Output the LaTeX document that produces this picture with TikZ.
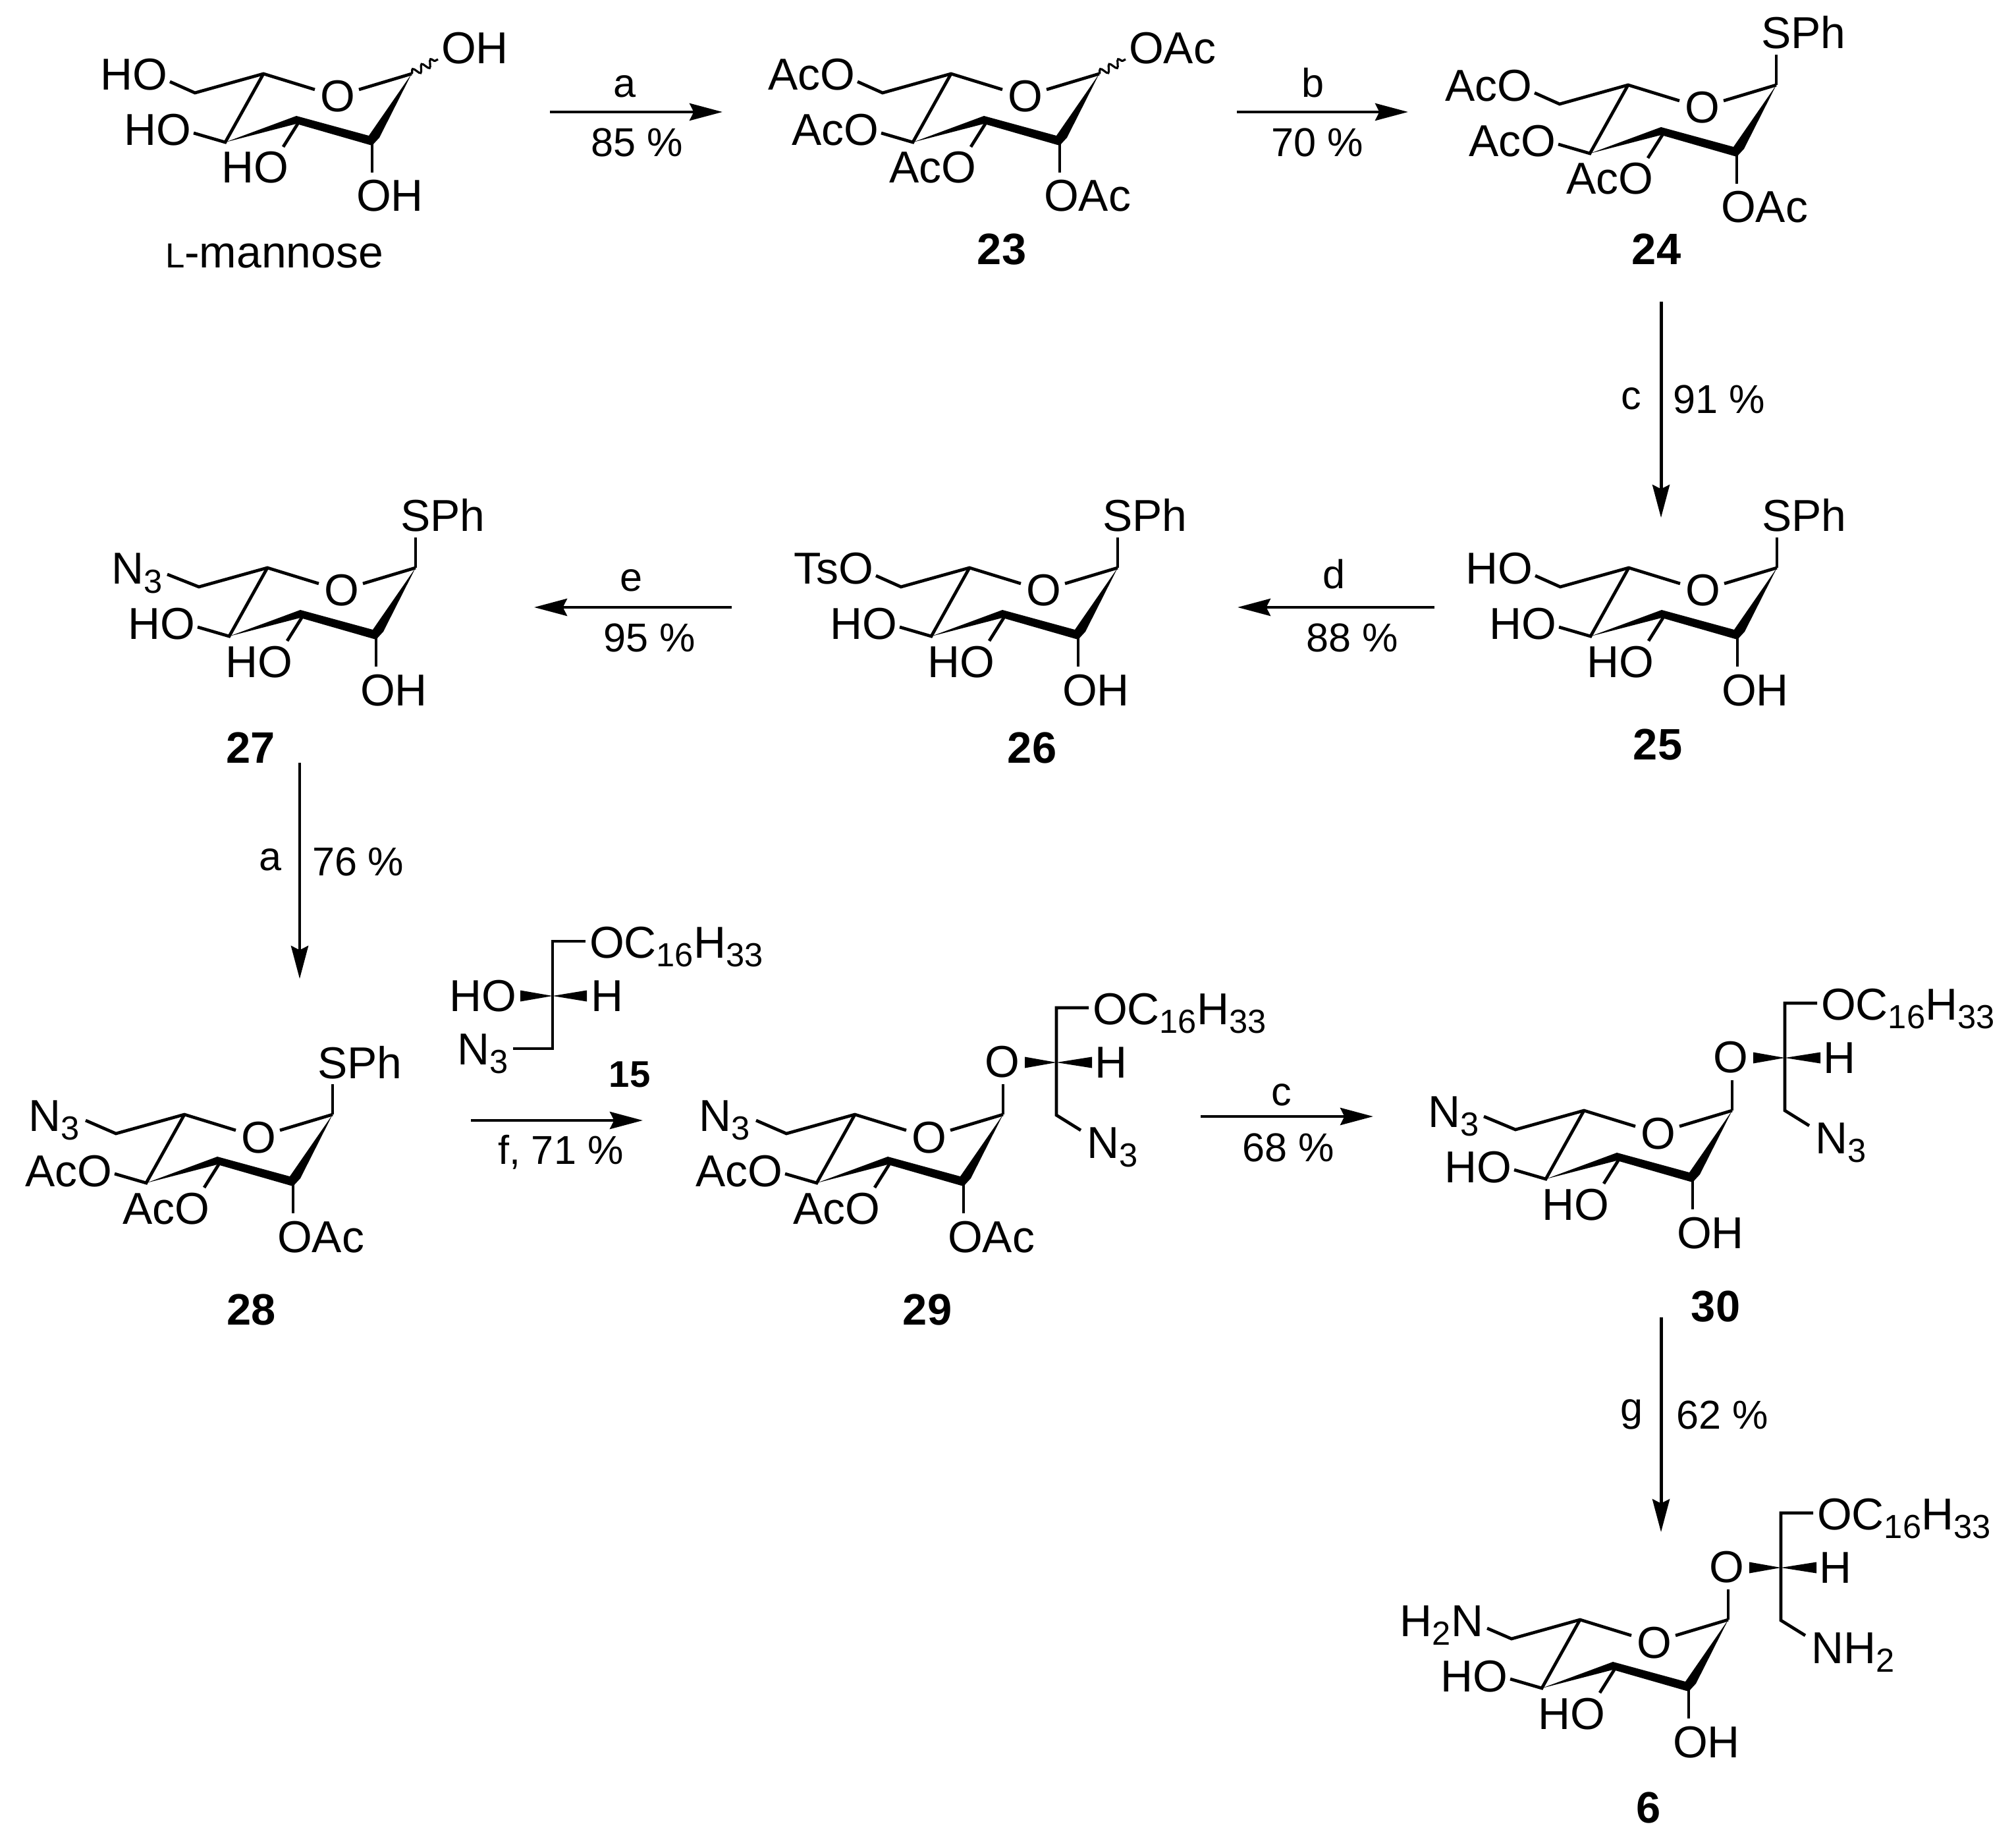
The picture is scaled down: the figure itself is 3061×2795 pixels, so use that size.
\documentclass[tikz,border=0pt]{standalone}
\usepackage{fontspec}
\setmainfont{Liberation Sans}
\usetikzlibrary{arrows.meta,decorations.pathmorphing}
\tikzset{
  bond/.style={line width=1.35pt,line join=miter,line cap=butt},
  chem/.style={inner sep=0pt,outer sep=0pt,font=\fontsize{19.3pt}{19.3pt}\selectfont},
  num/.style={inner sep=0pt,outer sep=0pt,anchor=base,font=\fontsize{19pt}{19pt}\selectfont\bfseries},
  rlab/.style={inner sep=0pt,outer sep=0pt,font=\fontsize{17.4pt}{17.4pt}\selectfont},
  rarrow/.style={line width=1.4pt,-{Stealth[length=14.2pt,width=7.4pt,inset=1.8pt]}},
  wavy/.style={line width=0.9pt,decorate,decoration={snake,segment length=4.4pt,amplitude=1.6pt}}
}
\newcommand\sbs[1]{\raisebox{-3.7pt}{\fontsize{14.4pt}{14.4pt}\selectfont #1}}
% #1 prefix, #2 #3 origin at C5, #4 C6 label, #5 label x, #6 stub end, #7 C4 label, #8 C3 label, #9 C2 label
\newcommand\MkRing[9]{%
  \begin{scope}[shift={(#2,#3)}]
    \coordinate (#1c5) at (0,0);
    \coordinate (#1c6) at (-104,29);
    \coordinate (#1c6e) at #6;
    \coordinate (#1oa) at (78,24);
    \coordinate (#1ob) at (145,24);
    \coordinate (#1c1) at (225,0);
    \coordinate (#1c2) at (165,107);
    \coordinate (#1c2e) at (165,150);
    \coordinate (#1c3) at (52,76);
    \coordinate (#1c3e) at (30,111);
    \coordinate (#1c4) at (-58,104);
    \coordinate (#1c4e) at (-106,90);
    \coordinate (#1up) at (225,-46);
    \coordinate (#1wv) at (265,-22);
    \node[chem,anchor=base] (#1O) at (113,58) {O};
    \node[chem,anchor=base east] (#1l6) at (#5,25) {#4};
    \node[chem,anchor=base east] (#1l4) at (-110,109) {#7};
    \node[chem,anchor=base east] (#1l3) at (38,166) {#8};
    \node[chem,anchor=base west] (#1l2) at (141,209) {#9};
    \draw[bond] (#1c6e) -- (#1c6) -- (#1c5) -- (#1oa);
    \draw[bond] (#1ob) -- (#1c1);
    \draw[bond] (#1c5) -- (#1c4) -- (#1c4e);
    \draw[bond] (#1c3) -- (#1c3e);
    \draw[bond] (#1c2) -- (#1c2e);
    \fill (#1c1) -- (176,97) -- (165,109) -- (50,76) -- (#1c4) -- (50,64) -- (160,94) -- cycle;
  \end{scope}}
% SPh on C1
\newcommand\MkSPh[3]{%
  \draw[bond] (#1c1) -- (#1up);
  \begin{scope}[shift={(#2,#3)}]
    \node[chem,anchor=base west] (#1s) at (202,-55) {SPh};
  \end{scope}}
% side chain: #1 prefix, #2 #3 chiral C, #4 end label
\newcommand\MkChain[4]{%
  \draw[bond] (#1c1) -- (#1up);
  \begin{scope}[shift={(#2,#3)}]
    \coordinate (#1x) at (0,0);
    \coordinate (#1t) at (0,-83);
    \coordinate (#1tr) at (49,-83);
    \coordinate (#1b) at (0,80);
    \coordinate (#1br) at (37,103);
    \node[chem,anchor=base] (#1sO) at (-82,22) {O};
    \node[chem,anchor=base west] (#1oc) at (55,-58) {OC\sbs{16}H\sbs{33}};
    \node[chem,anchor=base west] (#1h) at (58,23) {H};
    \node[chem,anchor=base west] (#1e) at (46,145) {#4};
    \draw[bond] (#1tr) -- (#1t) -- (#1b) -- (#1br);
    \fill (#1x) -- (-48,-8.5) -- (-48,8.5) -- cycle;
    \fill (#1x) -- (54,-8.5) -- (54,8.5) -- cycle;
  \end{scope}}
\newcommand\MkArrow[5]{%
  \coordinate (#1s) at (#2,#3);
  \coordinate (#1e) at (#4,#5);
  \draw[rarrow] (#1s) -- (#1e);}
\begin{document}
\begin{tikzpicture}[x=0.01cm,y=-0.01cm]
\path[fill=white,use as bounding box] (0,0) rectangle (3061,2795);
% L-mannose
\MkRing{m}{400}{112}{HO}{-146}{(-142,12)}{HO}{HO}{OH}
\draw[wavy] (mc1) -- (mwv);
\node[chem,anchor=base west] (ma) at (670,97) {OH};
\node[chem,anchor=base west] (mname) at (251,407) {{\fontsize{15pt}{15pt}\selectfont L}-mannose};
% 23
\MkRing{b}{1444}{112}{AcO}{-146}{(-142,12)}{AcO}{AcO}{OAc}
\draw[wavy] (bc1) -- (bwv);
\node[chem,anchor=base west] (ba) at (1714,97) {OAc};
\node[num] (n23) at (1521,402) {23};
% 24
\MkRing{c}{2472}{129}{AcO}{-146}{(-142,12)}{AcO}{AcO}{OAc}
\MkSPh{c}{2472}{129}
\node[num] (n24) at (2515,402) {24};
% 25
\MkRing{d}{2473}{862}{HO}{-146}{(-142,12)}{HO}{HO}{OH}
\MkSPh{d}{2473}{862}
\node[num] (n25) at (2517,1153) {25};
% 26
\MkRing{e}{1472}{862}{TsO}{-146}{(-142,12)}{HO}{HO}{OH}
\MkSPh{e}{1472}{862}
\node[num] (n26) at (1567,1158) {26};
% 27
\MkRing{f}{406}{862}{N\sbs{3}}{-159}{(-152,10)}{HO}{HO}{OH}
\MkSPh{f}{406}{862}
\node[num] (n27) at (381,1159) {27};
% 28
\MkRing{g}{280}{1692}{N\sbs{3}}{-159}{(-150,9)}{AcO}{AcO}{OAc}
\MkSPh{g}{280}{1692}
\node[num] (n28) at (382,2011) {28};
% 15
\coordinate (ax) at (839,1512);
\coordinate (at) at (839,1429);
\coordinate (atr) at (889,1429);
\coordinate (ab) at (839,1592);
\coordinate (abl) at (779,1592);
\node[chem,anchor=base west] (aoc) at (895,1454) {OC\sbs{16}H\sbs{33}};
\node[chem,anchor=base west] (ah) at (897,1535) {H};
\node[chem,anchor=base east] (aho) at (784,1535) {HO};
\node[chem,anchor=base west] (an) at (694,1616) {N\sbs{3}};
\draw[bond] (atr) -- (at) -- (ab) -- (abl);
\fill (ax) -- (790,1503.5) -- (790,1520.5) -- cycle;
\fill (ax) -- (891,1503.5) -- (891,1520.5) -- cycle;
\node[inner sep=0pt,anchor=base,font=\fontsize{16pt}{16pt}\selectfont\bfseries] (n15) at (956,1650) {15};
% 29
\MkRing{h}{1298}{1692}{N\sbs{3}}{-159}{(-150,9)}{AcO}{AcO}{OAc}
\MkChain{h}{1604}{1613}{N\sbs{3}}
\node[num] (n29) at (1408,2011) {29};
% 30
\MkRing{i}{2405}{1686}{N\sbs{3}}{-159}{(-152,9)}{HO}{HO}{OH}
\MkChain{i}{2710}{1606}{N\sbs{3}}
\node[num] (n30) at (2605,2006) {30};
% 6
\MkRing{j}{2399}{2459}{H\sbs{2}N}{-147}{(-141,13)}{HO}{HO}{OH}
\MkChain{j}{2704}{2380}{NH\sbs{2}}
\node[num] (n6) at (2503,2767) {6};
% arrows
\MkArrow{ra}{835}{170}{1097}{170}
\node[rlab,anchor=base] (ral) at (948,148) {a};
\node[rlab,anchor=base west] (rap) at (897,238) {85 \%};
\MkArrow{rb}{1878}{170}{2138}{170}
\node[rlab,anchor=base] (rbl) at (1993,148) {b};
\node[rlab,anchor=base west] (rbp) at (1930,238) {70 \%};
\MkArrow{rc}{2522}{458}{2522}{786}
\node[rlab,anchor=base] (rcl) at (2477,622) {c};
\node[rlab,anchor=base west] (rcp) at (2540,628) {91 \%};
\MkArrow{rd}{2178}{922}{1879}{922}
\node[rlab,anchor=base] (rdl) at (2025,894) {d};
\node[rlab,anchor=base west] (rdp) at (1983,990) {88 \%};
\MkArrow{re}{1111}{922}{811}{922}
\node[rlab,anchor=base] (rel) at (958,898) {e};
\node[rlab,anchor=base west] (rep) at (916,990) {95 \%};
\MkArrow{rf}{455}{1158}{455}{1486}
\node[rlab,anchor=base] (rfl) at (411,1321) {a};
\node[rlab,anchor=base west] (rfp) at (474,1329) {76 \%};
\MkArrow{rg}{715}{1701}{976}{1701}
\node[rlab,anchor=base west] (rgl) at (756,1767) {f, 71 \%};
\MkArrow{rh}{1823}{1695}{2085}{1695}
\node[rlab,anchor=base] (rhl) at (1946,1678) {c};
\node[rlab,anchor=base west] (rhp) at (1886,1763) {68 \%};
\MkArrow{ri}{2522}{2000}{2522}{2326}
\node[rlab,anchor=base] (ril) at (2477,2157) {g};
\node[rlab,anchor=base west] (rip) at (2545,2169) {62 \%};
\end{tikzpicture}
\end{document}
